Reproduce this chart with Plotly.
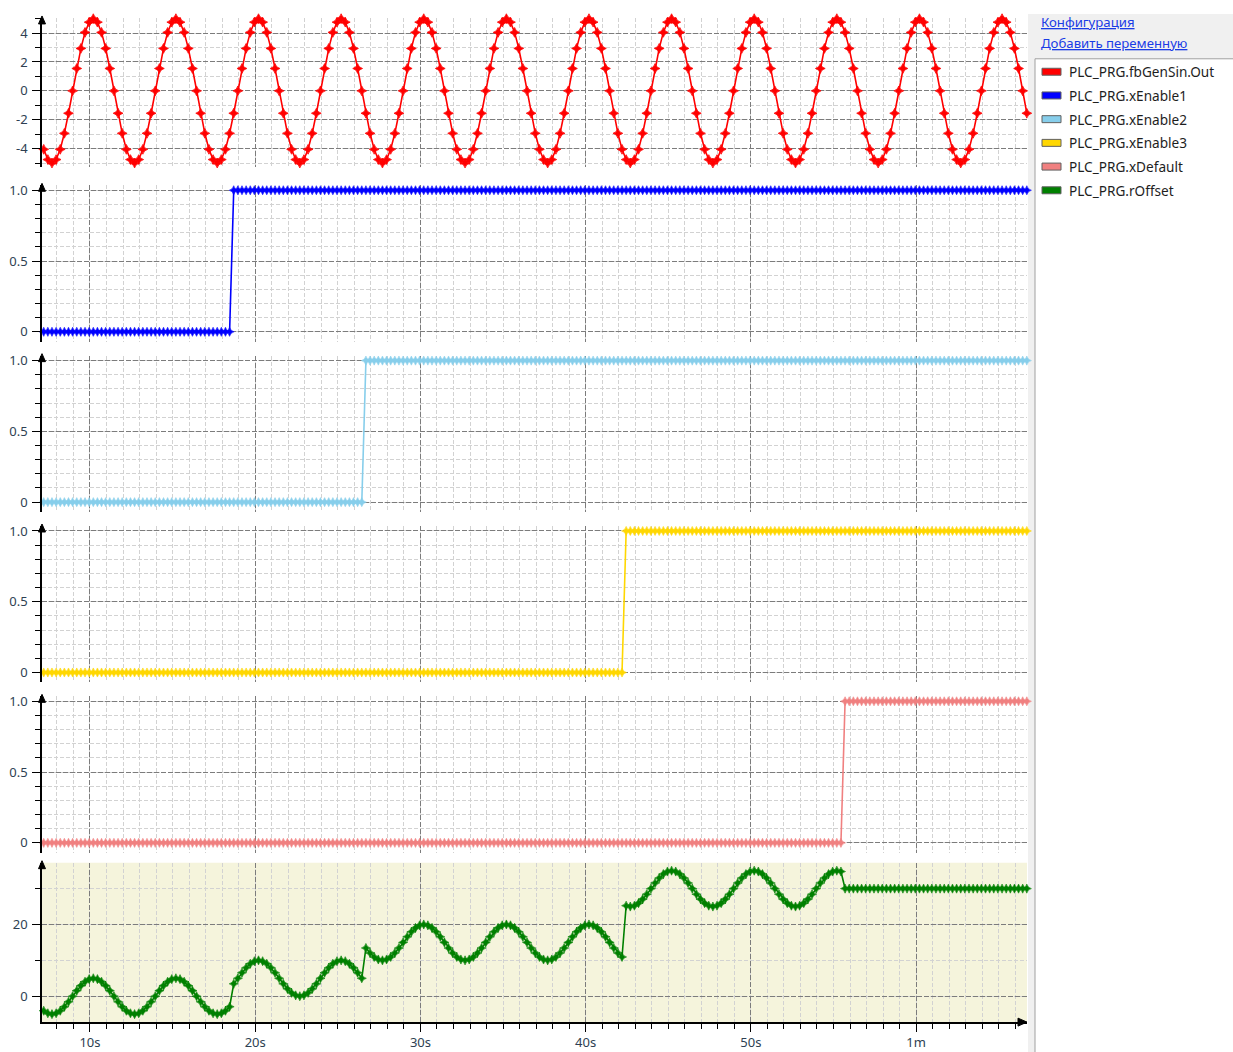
import plotly.graph_objects as go

# ---------------- data (sampled trace, 0.25 s period) ----------------
TIME_S = [
    7.2, 7.45, 7.7, 7.95, 8.2, 8.45, 8.7, 8.95, 9.2, 9.45, 9.7, 9.95, 10.2, 10.45, 10.7, 10.95, 11.2, 11.45, 11.7, 11.95,
    12.2, 12.45, 12.7, 12.95, 13.2, 13.45, 13.7, 13.95, 14.2, 14.45, 14.7, 14.95, 15.2, 15.45, 15.7, 15.95, 16.2, 16.45, 16.7, 16.95,
    17.2, 17.45, 17.7, 17.95, 18.2, 18.45, 18.7, 18.95, 19.2, 19.45, 19.7, 19.95, 20.2, 20.45, 20.7, 20.95, 21.2, 21.45, 21.7, 21.95,
    22.2, 22.45, 22.7, 22.95, 23.2, 23.45, 23.7, 23.95, 24.2, 24.45, 24.7, 24.95, 25.2, 25.45, 25.7, 25.95, 26.2, 26.45, 26.7, 26.95,
    27.2, 27.45, 27.7, 27.95, 28.2, 28.45, 28.7, 28.95, 29.2, 29.45, 29.7, 29.95, 30.2, 30.45, 30.7, 30.95, 31.2, 31.45, 31.7, 31.95,
    32.2, 32.45, 32.7, 32.95, 33.2, 33.45, 33.7, 33.95, 34.2, 34.45, 34.7, 34.95, 35.2, 35.45, 35.7, 35.95, 36.2, 36.45, 36.7, 36.95,
    37.2, 37.45, 37.7, 37.95, 38.2, 38.45, 38.7, 38.95, 39.2, 39.45, 39.7, 39.95, 40.2, 40.45, 40.7, 40.95, 41.2, 41.45, 41.7, 41.95,
    42.2, 42.45, 42.7, 42.95, 43.2, 43.45, 43.7, 43.95, 44.2, 44.45, 44.7, 44.95, 45.2, 45.45, 45.7, 45.95, 46.2, 46.45, 46.7, 46.95,
    47.2, 47.45, 47.7, 47.95, 48.2, 48.45, 48.7, 48.95, 49.2, 49.45, 49.7, 49.95, 50.2, 50.45, 50.7, 50.95, 51.2, 51.45, 51.7, 51.95,
    52.2, 52.45, 52.7, 52.95, 53.2, 53.45, 53.7, 53.95, 54.2, 54.45, 54.7, 54.95, 55.2, 55.45, 55.7, 55.95, 56.2, 56.45, 56.7, 56.95,
    57.2, 57.45, 57.7, 57.95, 58.2, 58.45, 58.7, 58.95, 59.2, 59.45, 59.7, 59.95, 60.2, 60.45, 60.7, 60.95, 61.2, 61.45, 61.7, 61.95,
    62.2, 62.45, 62.7, 62.95, 63.2, 63.45, 63.7, 63.95, 64.2, 64.45, 64.7, 64.95, 65.2, 65.45, 65.7, 65.95, 66.2, 66.45, 66.7,
]

GEN_SIN_OUT = [
    -4.05, -4.76, -5.0, -4.76, -4.05, -2.94, -1.55, 0.0, 1.55, 2.94, 4.05, 4.76, 5.0, 4.76, 4.05, 2.94, 1.55, 0.0, -1.55, -2.94,
    -4.05, -4.76, -5.0, -4.76, -4.05, -2.94, -1.55, 0.0, 1.55, 2.94, 4.05, 4.76, 5.0, 4.76, 4.05, 2.94, 1.55, 0.0, -1.55, -2.94,
    -4.05, -4.76, -5.0, -4.76, -4.05, -2.94, -1.55, 0.0, 1.55, 2.94, 4.05, 4.76, 5.0, 4.76, 4.05, 2.94, 1.55, 0.0, -1.55, -2.94,
    -4.05, -4.76, -5.0, -4.76, -4.05, -2.94, -1.55, 0.0, 1.55, 2.94, 4.05, 4.76, 5.0, 4.76, 4.05, 2.94, 1.55, 0.0, -1.55, -2.94,
    -4.05, -4.76, -5.0, -4.76, -4.05, -2.94, -1.55, 0.0, 1.55, 2.94, 4.05, 4.76, 5.0, 4.76, 4.05, 2.94, 1.55, 0.0, -1.55, -2.94,
    -4.05, -4.76, -5.0, -4.76, -4.05, -2.94, -1.55, 0.0, 1.55, 2.94, 4.05, 4.76, 5.0, 4.76, 4.05, 2.94, 1.55, 0.0, -1.55, -2.94,
    -4.05, -4.76, -5.0, -4.76, -4.05, -2.94, -1.55, 0.0, 1.55, 2.94, 4.05, 4.76, 5.0, 4.76, 4.05, 2.94, 1.55, 0.0, -1.55, -2.94,
    -4.05, -4.76, -5.0, -4.76, -4.05, -2.94, -1.55, 0.0, 1.55, 2.94, 4.05, 4.76, 5.0, 4.76, 4.05, 2.94, 1.55, 0.0, -1.55, -2.94,
    -4.05, -4.76, -5.0, -4.76, -4.05, -2.94, -1.55, 0.0, 1.55, 2.94, 4.05, 4.76, 5.0, 4.76, 4.05, 2.94, 1.55, 0.0, -1.55, -2.94,
    -4.05, -4.76, -5.0, -4.76, -4.05, -2.94, -1.55, 0.0, 1.55, 2.94, 4.05, 4.76, 5.0, 4.76, 4.05, 2.94, 1.55, 0.0, -1.55, -2.94,
    -4.05, -4.76, -5.0, -4.76, -4.05, -2.94, -1.55, 0.0, 1.55, 2.94, 4.05, 4.76, 5.0, 4.76, 4.05, 2.94, 1.55, 0.0, -1.55, -2.94,
    -4.05, -4.76, -5.0, -4.76, -4.05, -2.94, -1.55, 0.0, 1.55, 2.94, 4.05, 4.76, 5.0, 4.76, 4.05, 2.94, 1.55, 0.0, -1.55,
]

X_ENABLE1 = [
    0, 0, 0, 0, 0, 0, 0, 0, 0, 0, 0, 0, 0, 0, 0, 0, 0, 0, 0, 0,
    0, 0, 0, 0, 0, 0, 0, 0, 0, 0, 0, 0, 0, 0, 0, 0, 0, 0, 0, 0,
    0, 0, 0, 0, 0, 0, 1, 1, 1, 1, 1, 1, 1, 1, 1, 1, 1, 1, 1, 1,
    1, 1, 1, 1, 1, 1, 1, 1, 1, 1, 1, 1, 1, 1, 1, 1, 1, 1, 1, 1,
    1, 1, 1, 1, 1, 1, 1, 1, 1, 1, 1, 1, 1, 1, 1, 1, 1, 1, 1, 1,
    1, 1, 1, 1, 1, 1, 1, 1, 1, 1, 1, 1, 1, 1, 1, 1, 1, 1, 1, 1,
    1, 1, 1, 1, 1, 1, 1, 1, 1, 1, 1, 1, 1, 1, 1, 1, 1, 1, 1, 1,
    1, 1, 1, 1, 1, 1, 1, 1, 1, 1, 1, 1, 1, 1, 1, 1, 1, 1, 1, 1,
    1, 1, 1, 1, 1, 1, 1, 1, 1, 1, 1, 1, 1, 1, 1, 1, 1, 1, 1, 1,
    1, 1, 1, 1, 1, 1, 1, 1, 1, 1, 1, 1, 1, 1, 1, 1, 1, 1, 1, 1,
    1, 1, 1, 1, 1, 1, 1, 1, 1, 1, 1, 1, 1, 1, 1, 1, 1, 1, 1, 1,
    1, 1, 1, 1, 1, 1, 1, 1, 1, 1, 1, 1, 1, 1, 1, 1, 1, 1, 1,
]

X_ENABLE2 = [
    0, 0, 0, 0, 0, 0, 0, 0, 0, 0, 0, 0, 0, 0, 0, 0, 0, 0, 0, 0,
    0, 0, 0, 0, 0, 0, 0, 0, 0, 0, 0, 0, 0, 0, 0, 0, 0, 0, 0, 0,
    0, 0, 0, 0, 0, 0, 0, 0, 0, 0, 0, 0, 0, 0, 0, 0, 0, 0, 0, 0,
    0, 0, 0, 0, 0, 0, 0, 0, 0, 0, 0, 0, 0, 0, 0, 0, 0, 0, 1, 1,
    1, 1, 1, 1, 1, 1, 1, 1, 1, 1, 1, 1, 1, 1, 1, 1, 1, 1, 1, 1,
    1, 1, 1, 1, 1, 1, 1, 1, 1, 1, 1, 1, 1, 1, 1, 1, 1, 1, 1, 1,
    1, 1, 1, 1, 1, 1, 1, 1, 1, 1, 1, 1, 1, 1, 1, 1, 1, 1, 1, 1,
    1, 1, 1, 1, 1, 1, 1, 1, 1, 1, 1, 1, 1, 1, 1, 1, 1, 1, 1, 1,
    1, 1, 1, 1, 1, 1, 1, 1, 1, 1, 1, 1, 1, 1, 1, 1, 1, 1, 1, 1,
    1, 1, 1, 1, 1, 1, 1, 1, 1, 1, 1, 1, 1, 1, 1, 1, 1, 1, 1, 1,
    1, 1, 1, 1, 1, 1, 1, 1, 1, 1, 1, 1, 1, 1, 1, 1, 1, 1, 1, 1,
    1, 1, 1, 1, 1, 1, 1, 1, 1, 1, 1, 1, 1, 1, 1, 1, 1, 1, 1,
]

X_ENABLE3 = [
    0, 0, 0, 0, 0, 0, 0, 0, 0, 0, 0, 0, 0, 0, 0, 0, 0, 0, 0, 0,
    0, 0, 0, 0, 0, 0, 0, 0, 0, 0, 0, 0, 0, 0, 0, 0, 0, 0, 0, 0,
    0, 0, 0, 0, 0, 0, 0, 0, 0, 0, 0, 0, 0, 0, 0, 0, 0, 0, 0, 0,
    0, 0, 0, 0, 0, 0, 0, 0, 0, 0, 0, 0, 0, 0, 0, 0, 0, 0, 0, 0,
    0, 0, 0, 0, 0, 0, 0, 0, 0, 0, 0, 0, 0, 0, 0, 0, 0, 0, 0, 0,
    0, 0, 0, 0, 0, 0, 0, 0, 0, 0, 0, 0, 0, 0, 0, 0, 0, 0, 0, 0,
    0, 0, 0, 0, 0, 0, 0, 0, 0, 0, 0, 0, 0, 0, 0, 0, 0, 0, 0, 0,
    0, 1, 1, 1, 1, 1, 1, 1, 1, 1, 1, 1, 1, 1, 1, 1, 1, 1, 1, 1,
    1, 1, 1, 1, 1, 1, 1, 1, 1, 1, 1, 1, 1, 1, 1, 1, 1, 1, 1, 1,
    1, 1, 1, 1, 1, 1, 1, 1, 1, 1, 1, 1, 1, 1, 1, 1, 1, 1, 1, 1,
    1, 1, 1, 1, 1, 1, 1, 1, 1, 1, 1, 1, 1, 1, 1, 1, 1, 1, 1, 1,
    1, 1, 1, 1, 1, 1, 1, 1, 1, 1, 1, 1, 1, 1, 1, 1, 1, 1, 1,
]

X_DEFAULT = [
    0, 0, 0, 0, 0, 0, 0, 0, 0, 0, 0, 0, 0, 0, 0, 0, 0, 0, 0, 0,
    0, 0, 0, 0, 0, 0, 0, 0, 0, 0, 0, 0, 0, 0, 0, 0, 0, 0, 0, 0,
    0, 0, 0, 0, 0, 0, 0, 0, 0, 0, 0, 0, 0, 0, 0, 0, 0, 0, 0, 0,
    0, 0, 0, 0, 0, 0, 0, 0, 0, 0, 0, 0, 0, 0, 0, 0, 0, 0, 0, 0,
    0, 0, 0, 0, 0, 0, 0, 0, 0, 0, 0, 0, 0, 0, 0, 0, 0, 0, 0, 0,
    0, 0, 0, 0, 0, 0, 0, 0, 0, 0, 0, 0, 0, 0, 0, 0, 0, 0, 0, 0,
    0, 0, 0, 0, 0, 0, 0, 0, 0, 0, 0, 0, 0, 0, 0, 0, 0, 0, 0, 0,
    0, 0, 0, 0, 0, 0, 0, 0, 0, 0, 0, 0, 0, 0, 0, 0, 0, 0, 0, 0,
    0, 0, 0, 0, 0, 0, 0, 0, 0, 0, 0, 0, 0, 0, 0, 0, 0, 0, 0, 0,
    0, 0, 0, 0, 0, 0, 0, 0, 0, 0, 0, 0, 0, 0, 1, 1, 1, 1, 1, 1,
    1, 1, 1, 1, 1, 1, 1, 1, 1, 1, 1, 1, 1, 1, 1, 1, 1, 1, 1, 1,
    1, 1, 1, 1, 1, 1, 1, 1, 1, 1, 1, 1, 1, 1, 1, 1, 1, 1, 1,
]

R_OFFSET = [
    -4.05, -4.76, -5.0, -4.76, -4.05, -2.94, -1.55, 0.0, 1.55, 2.94, 4.05, 4.76, 5.0, 4.76, 4.05, 2.94, 1.55, 0.0, -1.55, -2.94,
    -4.05, -4.76, -5.0, -4.76, -4.05, -2.94, -1.55, 0.0, 1.55, 2.94, 4.05, 4.76, 5.0, 4.76, 4.05, 2.94, 1.55, 0.0, -1.55, -2.94,
    -4.05, -4.76, -5.0, -4.76, -4.05, -2.94, 3.45, 5.0, 6.55, 7.94, 9.05, 9.76, 10.0, 9.76, 9.05, 7.94, 6.55, 5.0, 3.45, 2.06,
    0.95, 0.24, 0.0, 0.24, 0.95, 2.06, 3.45, 5.0, 6.55, 7.94, 9.05, 9.76, 10.0, 9.76, 9.05, 7.94, 6.55, 5.0, 13.45, 12.06,
    10.95, 10.24, 10.0, 10.24, 10.95, 12.06, 13.45, 15.0, 16.55, 17.94, 19.05, 19.76, 20.0, 19.76, 19.05, 17.94, 16.55, 15.0, 13.45, 12.06,
    10.95, 10.24, 10.0, 10.24, 10.95, 12.06, 13.45, 15.0, 16.55, 17.94, 19.05, 19.76, 20.0, 19.76, 19.05, 17.94, 16.55, 15.0, 13.45, 12.06,
    10.95, 10.24, 10.0, 10.24, 10.95, 12.06, 13.45, 15.0, 16.55, 17.94, 19.05, 19.76, 20.0, 19.76, 19.05, 17.94, 16.55, 15.0, 13.45, 12.06,
    10.95, 25.24, 25.0, 25.24, 25.95, 27.06, 28.45, 30.0, 31.55, 32.94, 34.05, 34.76, 35.0, 34.76, 34.05, 32.94, 31.55, 30.0, 28.45, 27.06,
    25.95, 25.24, 25.0, 25.24, 25.95, 27.06, 28.45, 30.0, 31.55, 32.94, 34.05, 34.76, 35.0, 34.76, 34.05, 32.94, 31.55, 30.0, 28.45, 27.06,
    25.95, 25.24, 25.0, 25.24, 25.95, 27.06, 28.45, 30.0, 31.55, 32.94, 34.05, 34.76, 35.0, 34.76, 30.0, 30.0, 30.0, 30.0, 30.0, 30.0,
    30.0, 30.0, 30.0, 30.0, 30.0, 30.0, 30.0, 30.0, 30.0, 30.0, 30.0, 30.0, 30.0, 30.0, 30.0, 30.0, 30.0, 30.0, 30.0, 30.0,
    30.0, 30.0, 30.0, 30.0, 30.0, 30.0, 30.0, 30.0, 30.0, 30.0, 30.0, 30.0, 30.0, 30.0, 30.0, 30.0, 30.0, 30.0, 30.0,
]

SERIES_NAMES = [
    "PLC_PRG.fbGenSin.Out",
    "PLC_PRG.xEnable1",
    "PLC_PRG.xEnable2",
    "PLC_PRG.xEnable3",
    "PLC_PRG.xDefault",
    "PLC_PRG.rOffset",
]
SERIES_VALUES = [GEN_SIN_OUT, X_ENABLE1, X_ENABLE2, X_ENABLE3, X_DEFAULT, R_OFFSET]

X_TICK_VALS = [10, 20, 30, 40, 50, 60]
X_TICK_TEXT = ["10s", "20s", "30s", "40s", "50s", "1m"]
SIN_TICK_VALS = [-4, -2, 0, 2, 4]
SIN_TICK_TEXT = ["-4", "-2", "0", "2", "4"]
BOOL_TICK_VALS = [0, 0.5, 1.0]
BOOL_TICK_TEXT = ["0", "0.5", "1.0"]
OFFSET_TICK_VALS = [0, 20]
OFFSET_TICK_TEXT = ["0", "20"]

LINK_TEXTS = ["Конфигурация", "Добавить переменную"]

for arr in SERIES_VALUES:
    assert len(arr) == len(TIME_S), (len(arr), len(TIME_S))

# ---------------- styling ----------------
W, H = 1233, 1052
COLORS = ["#FF0000", "#0000FF", "#87CEEB", "#FFD700", "#F08080", "#008000"]
FONT = "Noto Sans"
TICK_COLOR = "#2E3F52"
MAJOR_GRID = "#7C7C7C"
MINOR_GRID = "#D2D2D2"

PLOT_LEFT, PLOT_RIGHT = 42, 1027
X_RANGE = [7.096, 66.71]

# (top px, bottom px, y range, tickvals, ticktext, minor dtick)
PANELS = [
    (14, 164, [-5.3, 5.05], SIN_TICK_VALS, SIN_TICK_TEXT, 1),
    (182, 339, [-0.07, 1.035], BOOL_TICK_VALS, BOOL_TICK_TEXT, 0.1),
    (353, 510, [-0.07, 1.035], BOOL_TICK_VALS, BOOL_TICK_TEXT, 0.1),
    (524, 681, [-0.07, 1.035], BOOL_TICK_VALS, BOOL_TICK_TEXT, 0.1),
    (695, 852, [-0.07, 1.035], BOOL_TICK_VALS, BOOL_TICK_TEXT, 0.1),
    (862, 1022, [-7.22, 37.22], OFFSET_TICK_VALS, OFFSET_TICK_TEXT, 10),
]


def px_x(p):
    return p / W


def px_y(p):
    return 1 - p / H


fig = go.Figure()
layout = dict(
    width=W,
    height=H,
    margin=dict(l=0, r=0, t=0, b=0),
    paper_bgcolor="white",
    plot_bgcolor="rgba(0,0,0,0)",
    showlegend=False,
    font=dict(family=FONT, size=13, color=TICK_COLOR),
)

shapes = []
annotations = []
n = len(PANELS)
for i, (top, bot, yr, tv, tt, mdt) in enumerate(PANELS, start=1):
    sx = "" if i == 1 else str(i)
    last = i == n
    fig.add_trace(go.Scatter(
        x=TIME_S, y=SERIES_VALUES[i - 1], name=SERIES_NAMES[i - 1],
        mode="lines+markers",
        line=dict(color=COLORS[i - 1], width=1.6),
        marker=dict(symbol="star-diamond", size=7 if i == 1 else 6.5, color=COLORS[i - 1],
                    line=dict(color=COLORS[i - 1], width=0.8 if i == 1 else 0.6)),
        xaxis="x" + sx, yaxis="y" + sx, cliponaxis=False,
    ))
    xa = dict(
        domain=[px_x(PLOT_LEFT), px_x(PLOT_RIGHT)],
        range=X_RANGE, anchor="y" + sx,
        tickmode="array", tickvals=X_TICK_VALS, ticktext=X_TICK_TEXT,
        showticklabels=last, ticks="outside" if last else "",
        ticklen=8, tickwidth=1, tickcolor="black",
        showline=last, linecolor="black", linewidth=1.5,
        showgrid=True, gridcolor=MAJOR_GRID, griddash="5px,2px", gridwidth=1,
        zeroline=False,
        tickfont=dict(family=FONT, size=13, color=TICK_COLOR),
        minor=dict(tickmode="linear", tick0=0, dtick=1, showgrid=True,
                   gridcolor=MINOR_GRID, griddash="4px,2px", gridwidth=1,
                   ticks="outside" if last else "", ticklen=5, tickcolor="black"),
    )
    if i > 1:
        xa["matches"] = "x"
    ya = dict(
        domain=[px_y(bot), px_y(top)], range=yr, anchor="x" + sx,
        tickmode="array", tickvals=tv, ticktext=tt,
        ticks="outside", ticklen=8, tickwidth=1, tickcolor="black",
        showline=True, linecolor="black", linewidth=1.5,
        showgrid=True, gridcolor=MAJOR_GRID, griddash="5px,2px", gridwidth=1,
        zeroline=False, ticklabelstandoff=2,
        tickfont=dict(family=FONT, size=13, color=TICK_COLOR),
        minor=dict(tickmode="linear", tick0=0, dtick=mdt, showgrid=True,
                   gridcolor=MINOR_GRID, griddash="4px,2px", gridwidth=1,
                   ticks="outside", ticklen=5, tickcolor="black"),
    )
    layout["xaxis" + sx] = xa
    layout["yaxis" + sx] = ya

    # arrow at top of y-axis
    shapes.append(dict(
        type="path", xref="paper", yref="paper", layer="above",
        path="M {a},{b} L {c},{d} L {e},{f} Z".format(
            a=px_x(PLOT_LEFT), b=px_y(top - 2),
            c=px_x(PLOT_LEFT - 3.5), d=px_y(top + 6),
            e=px_x(PLOT_LEFT + 3.5), f=px_y(top + 6)),
        fillcolor="black", line=dict(color="black", width=1),
    ))

# beige background of offset panel
shapes.append(dict(type="rect", xref="x6 domain", yref="y6 domain", x0=0, x1=1, y0=0, y1=1,
                   fillcolor="#F5F4DC", line=dict(width=0), layer="below"))

# arrow at right end of time axis
shapes.append(dict(
    type="path", xref="paper", yref="paper", layer="above",
    path="M {a},{b} L {c},{d} L {e},{f} Z".format(
        a=px_x(PLOT_RIGHT), b=px_y(1022),
        c=px_x(PLOT_RIGHT - 9), d=px_y(1018),
        e=px_x(PLOT_RIGHT - 9), f=px_y(1026)),
    fillcolor="black", line=dict(color="black", width=1),
))

# right-hand panel
shapes.append(dict(type="rect", xref="paper", yref="paper",
                   x0=px_x(1028), x1=1, y0=0, y1=px_y(10),
                   fillcolor="#F0F0F0", line=dict(width=0), layer="below"))
shapes.append(dict(type="rect", xref="paper", yref="paper",
                   x0=px_x(1035), x1=px_x(1240), y0=px_y(1060), y1=px_y(55),
                   fillcolor="white", line=dict(color="#A0A0A0", width=1), layer="below"))

for j, txt in enumerate(LINK_TEXTS):
    annotations.append(dict(
        xref="paper", yref="paper", x=px_x(1039), y=px_y(18 + 21 * j),
        xanchor="left", yanchor="middle", showarrow=False,
        text="<u>" + txt + "</u>", font=dict(family=FONT, size=13.2, color="#1A3CE6"),
    ))

for j, name in enumerate(SERIES_NAMES):
    yc = 68 + 23.8 * j
    shapes.append(dict(type="rect", xref="paper", yref="paper",
                       x0=px_x(1042), x1=px_x(1061), y0=px_y(yc + 3.5), y1=px_y(yc - 3.5),
                       fillcolor=COLORS[j], line=dict(color="#606060", width=1), layer="above"))
    annotations.append(dict(
        xref="paper", yref="paper", x=px_x(1067), y=px_y(yc),
        xanchor="left", yanchor="middle", showarrow=False,
        text=name, font=dict(family=FONT, size=13.6, color="#1E1E1E"),
    ))

layout["shapes"] = shapes
layout["annotations"] = annotations
fig.update_layout(**layout)
fig.write_html(
    "out.html",
    config={"displayModeBar": False},
    post_script="document.body.style.margin='0px';document.body.style.overflow='hidden';",
)
